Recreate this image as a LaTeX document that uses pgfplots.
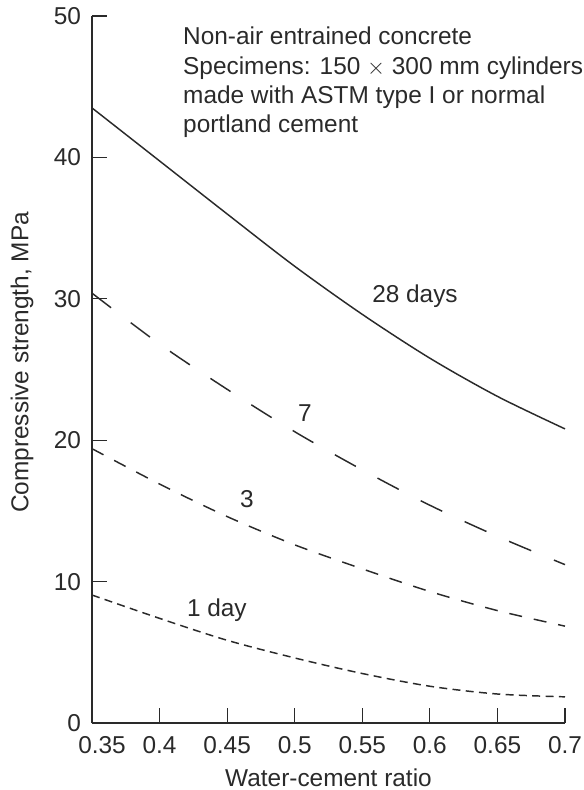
\documentclass[border=0pt]{standalone}
\usepackage{pgfplots}
\pgfplotsset{compat=1.18}
\usepackage{fontspec}
\setmainfont{Liberation Sans}

\definecolor{ink}{HTML}{2A2A2A}

% strength vs w/c ratio
\pgfplotstableread{
wc    d28    d7    d3    d1
0.35  43.5   30.4  19.4  9.05
0.40  39.75  26.8  16.9  7.4
0.45  36.0   23.6  14.6  5.85
0.50  32.3   20.6  12.6  4.6
0.55  28.9   17.9  10.9  3.5
0.60  25.8   15.4  9.3   2.6
0.65  23.1   13.2  7.95  2.05
0.70  20.8   11.2  6.85  1.85
}\strength

\begin{document}
\begin{tikzpicture}[x=1pt,y=1pt]
\begin{axis}[
  name=ax,
  scale only axis,
  width=354.75pt, height=530.25pt,
  xmin=0.35, xmax=0.7,
  ymin=0, ymax=50,
  axis lines=left,
  axis line style={ink, line width=0.9pt, -},
  xtick={0.35,0.4,0.45,0.5,0.55,0.6,0.65,0.7},
  xticklabels={\hspace{15pt}0.35,0.4,0.45,0.5,0.55,0.6,0.65,0.7},
  ytick={0,10,20,30,40,50},
  tick align=inside,
  major tick length=11pt,
  tick style={ink, line width=0.9pt},
  font=\fontsize{18.3}{22}\selectfont,
  /pgf/number format/assume math mode=true,
  tick label style={text=ink, inner sep=1pt},
  xticklabel style={yshift=-9pt},
  yticklabel style={xshift=-7pt},
  xlabel={Water-cement ratio},
  ylabel={Compressive strength, MPa},
  xlabel style={at={(axis description cs:0.5,-0.077)}, anchor=center, inner sep=0pt, text=ink},
  ylabel style={at={(axis description cs:-0.148,0.51)}, anchor=center, text=ink},
  clip=false,
]
\addplot[ink, line width=1.1pt, smooth] table[x=wc, y=d28] {\strength};
\addplot[ink, line width=1.1pt, smooth, dash pattern=on 18pt off 18.5pt] table[x=wc, y=d7] {\strength};
\addplot[ink, line width=1.1pt, smooth, dash pattern=on 9.75pt off 9pt] table[x=wc, y=d3] {\strength};
\addplot[ink, line width=1.1pt, smooth, dash pattern=on 6pt off 4pt] table[x=wc, y=d1] {\strength};

\node[text=ink] at (axis cs:0.589,30.2) {28 days};
\node[text=ink] at (axis cs:0.5075,21.9) {7};
\node[text=ink] at (axis cs:0.4646,15.8) {3};
\node[text=ink] at (axis cs:0.4424,8.0) {1 day};
\node[text=ink, anchor=north west, inner sep=0pt, align=left,
      font=\fontsize{18.3}{22.1}\selectfont]
  at (axis cs:0.4173,49.25)
  {Non-air entrained concrete\\
   Specimens: 150 $\times$ 300 mm cylinders\\
   made with ASTM type I or normal\\
   portland cement};
\end{axis}
\pgfresetboundingbox
\path[use as bounding box, shift={(ax.south west)}] (-69pt,-50.25pt) rectangle (368.25pt,542.25pt);
\end{tikzpicture}
\end{document}
